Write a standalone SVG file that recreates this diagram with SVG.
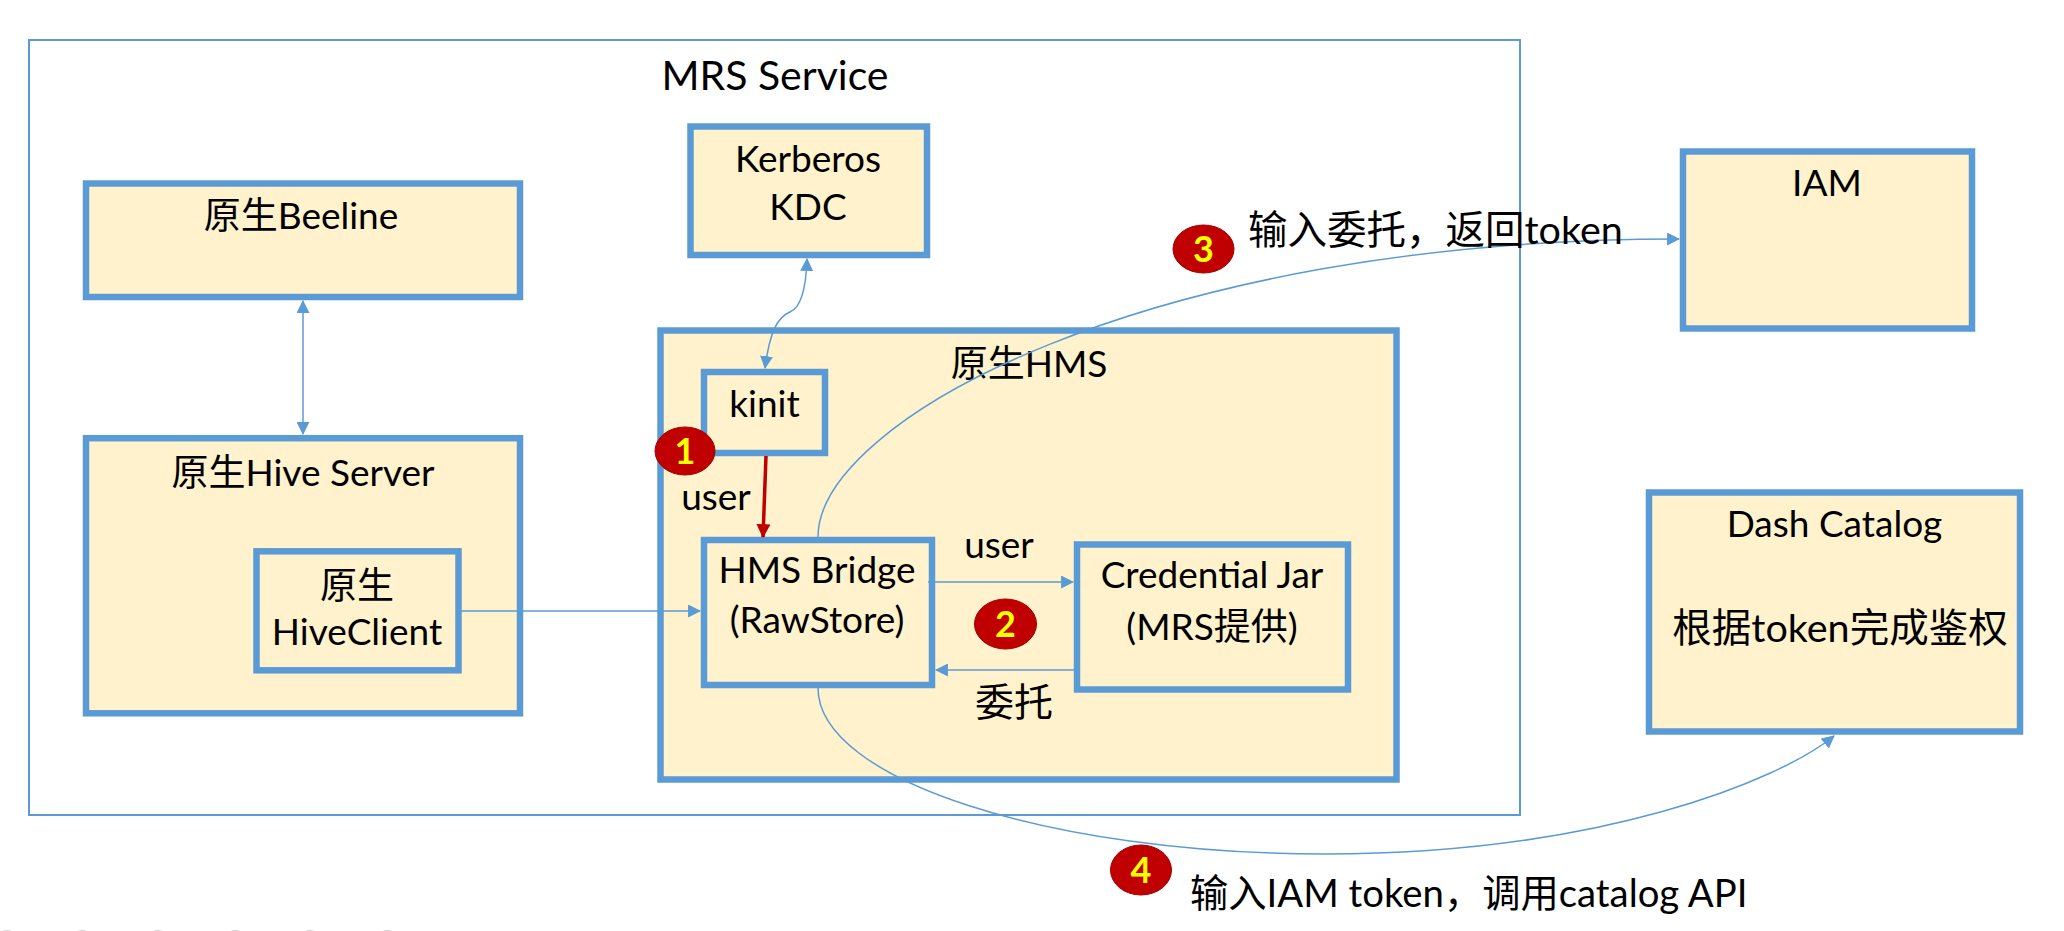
<svg xmlns="http://www.w3.org/2000/svg" width="2064" height="931" viewBox="0 0 2064 931">
<style>
.box{fill:#FFF2CC;stroke:#5B9BD5;stroke-width:6.5}
.t{font-family:Lato,"Noto Sans CJK SC",sans-serif;font-size:37px;fill:#000;text-anchor:middle}
.s{text-anchor:start}
.con{fill:none;stroke:#5B9BD5;stroke-width:1.5}
.badge{fill:#C00000;stroke:#A00000;stroke-width:1}
.num{font-family:Lato,"Liberation Sans",sans-serif;font-weight:bold;font-size:36px;fill:#FFFF00;text-anchor:middle}
</style>
<defs>
<marker id="ab" viewBox="0 0 12 12" refX="11" refY="6" markerWidth="13" markerHeight="13" markerUnits="userSpaceOnUse" orient="auto-start-reverse">
<path d="M0,0 L12,6 L0,12 z" fill="#5B9BD5"/>
</marker>
<marker id="ar" viewBox="0 0 12 12" refX="11" refY="6" markerWidth="14" markerHeight="14" markerUnits="userSpaceOnUse" orient="auto">
<path d="M0,0 L12,6 L0,12 z" fill="#C00000"/>
</marker>
</defs>
<rect width="2064" height="931" fill="#FFFFFF"/>

<g id="mrs-service">
<rect x="29" y="40" width="1491" height="775" fill="none" stroke="#5B9BD5" stroke-width="2"/>
<text class="t" x="775" y="90" style="font-size:41px">MRS Service</text>
</g>

<g id="kerberos">
<rect class="box" x="690.5" y="126.5" width="236.5" height="128.5"/>
<text class="t" x="808" y="172">Kerberos</text>
<text class="t" x="808" y="220">KDC</text>
</g>

<g id="beeline">
<rect class="box" x="86" y="183.5" width="434" height="113.5"/>
<text class="t" x="301" y="229">原生Beeline</text>
</g>

<g id="hive-server">
<rect class="box" x="86" y="438.2" width="434" height="275.1"/>
<text class="t" x="303" y="486">原生Hive Server</text>
</g>

<g id="hiveclient">
<rect class="box" x="256.5" y="551.3" width="202" height="119"/>
<text class="t" x="357" y="599">原生</text>
<text class="t" x="357" y="645">HiveClient</text>
</g>

<g id="hms">
<rect class="box" x="660.5" y="330.5" width="736" height="449"/>
<text class="t" x="1029" y="377">原生HMS</text>
</g>

<g id="kinit">
<rect class="box" x="704" y="372" width="121" height="81"/>
<text class="t" x="764.5" y="417">kinit</text>
</g>

<g id="hms-bridge">
<rect class="box" x="704" y="540" width="228" height="145"/>
<text class="t" x="817" y="583">HMS Bridge</text>
<text class="t" x="817" y="633">(RawStore)</text>
</g>

<g id="credential-jar">
<rect class="box" x="1077" y="544.5" width="271" height="145"/>
<text class="t" x="1212" y="588">Credential Jar</text>
<text class="t" x="1212" y="640">(MRS提供)</text>
</g>

<g id="iam">
<rect class="box" x="1683" y="151.5" width="289" height="177"/>
<text class="t" x="1827" y="196">IAM</text>
</g>

<g id="dash-catalog">
<rect class="box" x="1649" y="492.5" width="371" height="239"/>
<text class="t" x="1834.5" y="537">Dash Catalog</text>
<text class="t" x="1840" y="642" style="font-size:39.5px">根据token完成鉴权</text>
</g>

<g id="connectors">
<line class="con" x1="303" y1="301" x2="303" y2="434" marker-start="url(#ab)" marker-end="url(#ab)"/>
<path class="con" d="M807,259 C806,290 800,308 790,312 C778,317 770,330 765,368" marker-start="url(#ab)" marker-end="url(#ab)"/>
<line x1="766" y1="456" x2="763" y2="537" stroke="#C00000" stroke-width="3.5" marker-end="url(#ar)"/>
<line class="con" x1="461" y1="611" x2="700" y2="611" marker-end="url(#ab)"/>
<line class="con" x1="928" y1="582" x2="1073" y2="582" marker-end="url(#ab)"/>
<line class="con" x1="1074" y1="670" x2="936" y2="670" marker-end="url(#ab)"/>
<path class="con" d="M818,537 C818,420 1150,239 1679,239" marker-end="url(#ab)"/>
<path class="con" d="M818,688 C818,780 1050,854 1325,854 C1600,854 1780,780 1834,736" marker-end="url(#ab)"/>
</g>

<g id="labels">
<text class="t" x="716" y="510">user</text>
<text class="t" x="999" y="558">user</text>
<text class="t" x="1014" y="716" style="font-size:39px">委托</text>
<text class="t s" x="1248" y="244" style="font-size:39.5px">输入委托，返回token</text>
<text class="t s" x="1190" y="907" style="font-size:38.3px">输入IAM token，调用catalog API</text>
</g>

<g id="badge-1">
<ellipse class="badge" cx="685" cy="451" rx="30" ry="24"/>
<text class="num" x="685" y="464">1</text>
</g>
<g id="badge-2">
<ellipse class="badge" cx="1005.5" cy="624" rx="31" ry="25"/>
<text class="num" x="1005.5" y="637">2</text>
</g>
<g id="badge-3">
<ellipse class="badge" cx="1203.5" cy="249" rx="30.5" ry="24"/>
<text class="num" x="1203.5" y="262">3</text>
</g>
<g id="badge-4">
<ellipse class="badge" cx="1141" cy="870" rx="30.5" ry="25"/>
<text class="num" x="1141" y="883">4</text>
</g>

<g id="nav-dots" fill="none" stroke="#D0D0D0" stroke-width="2">
<circle cx="7" cy="940" r="9"/>
<circle cx="82" cy="940" r="9"/>
<circle cx="158" cy="940" r="9"/>
<circle cx="235" cy="940" r="9"/>
<circle cx="310" cy="940" r="9"/>
<circle cx="387" cy="940" r="9"/>
</g>
</svg>
